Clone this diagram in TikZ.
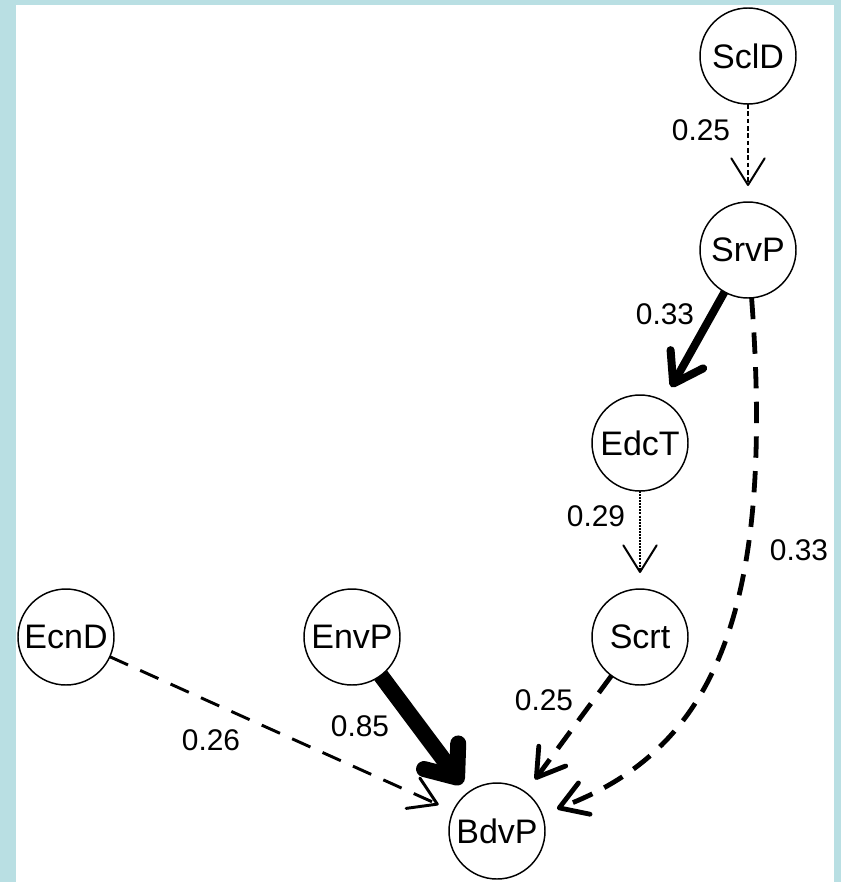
\documentclass[tikz,border=0pt]{standalone}
\usepackage{fontspec}
\setmainfont{Liberation Sans}
\usetikzlibrary{arrows.meta}
\definecolor{frame}{HTML}{B9DFE3}
\definecolor{paper}{HTML}{FFFFFF}
\definecolor{ink}{HTML}{000000}
\tikzset{
  var/.style={circle, draw=ink, fill=paper, line width=1.1pt, minimum size=72pt,
    inner sep=0pt, outer sep=0pt, text=ink, font=\fontsize{25.5}{30}\selectfont},
  wt/.style={text=ink, inner sep=0pt, font=\fontsize{22.4}{26}\selectfont},
  lnk/.style={draw=ink, line cap=butt,
    -{Straight Barb[length=20pt,width=25pt,line cap=round,line join=round]},
    shorten >=12pt},
  dotln/.style={lnk, line width=1.5pt, dash pattern=on 3.5pt off 2pt},
  fineln/.style={lnk, line width=1.5pt, dash pattern=on 1.5pt off 0.8pt},
  dashln/.style={lnk, line width=2.2pt, dash pattern=on 15pt off 10pt},
  dashbold/.style={lnk, line width=3.6pt, dash pattern=on 16pt off 10pt},
  solidbold/.style={lnk, line width=6pt,
    -{Straight Barb[length=21pt,width=28pt,line cap=round,line join=round]}},
  solidheavy/.style={lnk, line width=12pt, shorten >=8pt,
    -{Straight Barb[length=20pt,width=32pt,line cap=round,line join=round]}},
}

\begin{document}
\begin{tikzpicture}[x=0.75pt,y=-0.75pt]
  % frame and plot area
  \fill[frame] (0,0) rectangle (841,882);
  \fill[paper] (16,5) rectangle (834,882);
  \useasboundingbox (0,0) rectangle (841,882);

  \node[var] (SclD) at (748,56) {SclD};
  \node[var] (SrvP) at (748,250) {SrvP};
  \node[var] (EdcT) at (640,443) {EdcT};
  \node[var] (Scrt) at (640,637) {Scrt};
  \node[var] (EcnD) at (66,637) {EcnD};
  \node[var] (EnvP) at (352,637) {EnvP};
  \node[var] (BdvP) at (497,831) {BdvP};

  \draw[dotln] (SclD) -- (SrvP);
  \draw[solidbold] (SrvP) -- (EdcT);
  \draw[fineln] (EdcT) -- (Scrt);
  \draw[dashbold] (SrvP) .. controls (775,610) and (715,750) .. (BdvP);
  \draw[dashbold] (Scrt) -- (BdvP);
  \draw[solidheavy] (EnvP) -- (BdvP);
  \draw[dashln] (EcnD) -- (BdvP);

  \node[wt] at (701,130) {0.25};
  \node[wt] at (665,314) {0.33};
  \node[wt] at (596,516) {0.29};
  \node[wt] at (799,550) {0.33};
  \node[wt] at (544,700) {0.25};
  \node[wt] at (360,726) {0.85};
  \node[wt] at (211,740) {0.26};
\end{tikzpicture}
\end{document}
